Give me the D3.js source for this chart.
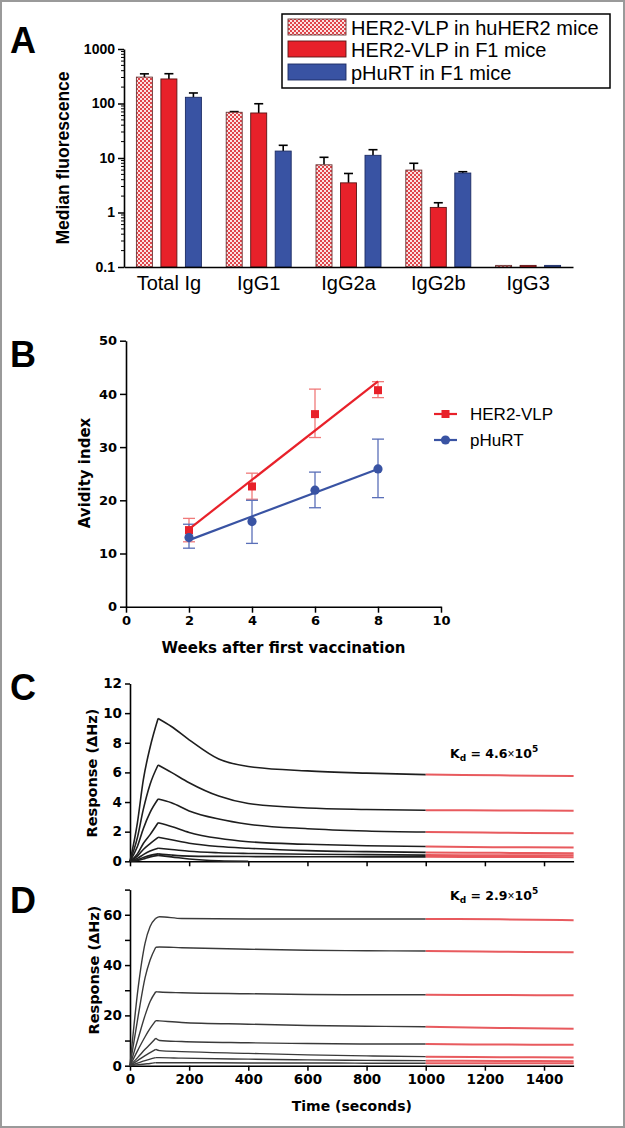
<!DOCTYPE html>
<html><head><meta charset="utf-8">
<script src="https://cdn.jsdelivr.net/npm/d3@7"></script>
<style>body{margin:0;background:#fff} svg{display:block}</style>
</head><body><svg id="c" width="625" height="1128"></svg>
<script>
// ---------- Panel A data ----------
const categoriesA = ["Total Ig","IgG1","IgG2a","IgG2b","IgG3"];
const seriesA = ["HER2-VLP in huHER2 mice","HER2-VLP in F1 mice","pHuRT in F1 mice"];
const huHER2Mean  = [305, 69, 7.5, 6.0, 0.107];
const huHER2Upper = [350, 71, 10.3, 8.0, 0.107];
const f1VlpMean   = [282, 67, 3.5, 1.24, 0.107];
const f1VlpUpper  = [352, 99, 5.2, 1.51, 0.107];
const f1PhurtMean = [130, 13.4, 11.2, 5.3, 0.107];
const f1PhurtUpper= [156, 17.1, 14.2, 5.6, 0.107];
const ticksA = [0.1, 1, 10, 100, 1000];
const tickLabelsA = ["0.1","1","10","100","1000"];

// ---------- Panel B data ----------
const weeks = [2, 4, 6, 8];
const vlpAvidity = [14.4, 22.6, 36.2, 40.7];
const vlpLow     = [12.2, 20.2, 31.8, 39.3];
const vlpHigh    = [16.6, 25.1, 40.9, 42.3];
const phurtAvidity = [13.0, 16.0, 21.9, 25.9];
const phurtLow     = [11.0, 11.9, 18.6, 20.5];
const phurtHigh    = [15.5, 20.0, 25.3, 31.5];
const seriesB = ["HER2-VLP", "pHuRT"];
const ticksBx = [0, 2, 4, 6, 8, 10];
const ticksBy = [0, 10, 20, 30, 40, 50];

// ---------- Panel C data (association/dissociation, black part) ----------
const timeC = [0, 25, 45, 68, 95, 140, 200, 300, 400, 600, 800, 1000];
const c1 = [0, 2.6, 5.5, 7.7, 9.64, 9.1, 8.2, 6.9, 6.4, 6.1, 5.95, 5.85];
const c2 = [0, 1.6, 3.5, 5.2, 6.5, 6.0, 5.3, 4.4, 3.9, 3.6, 3.5, 3.45];
const c3 = [0, 1.0, 2.2, 3.3, 4.2, 3.95, 3.4, 2.85, 2.5, 2.2, 2.05, 1.98];
const c4 = [0, 0.5, 1.2, 1.8, 2.6, 2.35, 1.95, 1.55, 1.32, 1.15, 1.05, 1.0];
const c5 = [0, 0.35, 0.8, 1.2, 1.62, 1.45, 1.22, 1.0, 0.88, 0.72, 0.65, 0.6];
const c6 = [0, 0.2, 0.45, 0.7, 0.88, 0.8, 0.68, 0.58, 0.53, 0.48, 0.45, 0.42];
const c7 = [0, 0.1, 0.25, 0.4, 0.5, 0.42, 0.35, 0.33, 0.32, 0.31, 0.3, 0.3];
const c8 = [0, 0.05, 0.15, 0.3, 0.4, 0.3, 0.15, 0.03, 0.0, null, null, null];
// fitted part (red)
const timeFit = [1000, 1250, 1500];
const c1fit = [5.85, 5.8, 5.75];
const c2fit = [3.45, 3.43, 3.42];
const c3fit = [1.98, 1.93, 1.9];
const c4fit = [1.0, 0.95, 0.93];
const c5fit = [0.6, 0.57, 0.55];
const c6fit = [0.42, 0.41, 0.4];
const c7fit = [0.3, 0.29, 0.28];
const ticksCy = [0, 2, 4, 6, 8, 10, 12];
const ticksTime = [0, 200, 400, 600, 800, 1000, 1200, 1400];

// ---------- Panel D data ----------
const timeD = [0, 28, 51, 68, 87, 100, 175, 400, 600, 800, 1000];
const d1 = [0, 31.4, 48.7, 55.3, 58.6, 59.2, 58.5, 58.3, 58.3, 58.3, 58.3];
const d2 = [0, 20, 35, 42, 47.1, 47.2, 46.9, 46.3, 45.9, 45.7, 45.6];
const d3v = [0, 11, 20, 25.5, 29.4, 29.3, 29.0, 28.6, 28.3, 28.2, 28.2];
const d4 = [0, 6.5, 11.5, 14.8, 17.9, 17.8, 17.2, 16.5, 16.0, 15.7, 15.5];
const d5 = [0, 3.5, 6.5, 8.5, 10.9, 10.0, 9.6, 9.1, 8.8, 8.6, 8.6];
const d6 = [0, 2.2, 4.0, 5.2, 6.5, 6.0, 5.6, 4.9, 4.3, 3.9, 3.6];
const d7 = [0, 1.1, 2.0, 2.6, 3.2, 3.2, 3.0, 2.6, 2.3, 2.1, 2.0];
const d8 = [0, 0.4, 0.7, 0.9, 1.2, 1.2, 1.2, 1.1, 1.1, 1.0, 1.0];
const d1fit = [58.3, 58.2, 57.8];
const d2fit = [45.6, 45.3, 45.1];
const d3fit = [28.2, 28.1, 28.0];
const d4fit = [15.5, 15.0, 14.7];
const d5fit = [8.6, 8.4, 8.3];
const d6fit = [3.6, 3.4, 3.3];
const d7fit = [2.0, 1.9, 1.8];
const d8fit = [1.0, 1.0, 1.0];
const ticksDy = [0, 10, 20, 30, 40, 50, 60, 70];

// ---------- drawing ----------
const FA = "'Liberation Sans', Arial, sans-serif";
const FD = "'DejaVu Sans', sans-serif";
const svg = d3.select("#c");
svg.append("rect").attr("x",1).attr("y",1).attr("width",623).attr("height",1126)
  .attr("fill","#fff").attr("stroke","#9a9a9a").attr("stroke-width",2);

const defs = svg.append("defs");
const pat = defs.append("pattern").attr("id","check").attr("width",4).attr("height",4)
  .attr("patternUnits","userSpaceOnUse");
pat.append("rect").attr("width",4).attr("height",4).attr("fill","#fbe3e3");
pat.append("rect").attr("width",2).attr("height",2).attr("fill","#e0454b");
pat.append("rect").attr("x",2).attr("y",2).attr("width",2).attr("height",2).attr("fill","#e0454b");

function styleAxis(g, font, size) {
  g.attr("font-family", font).attr("font-size", size).attr("font-weight","bold");
  g.select(".domain").attr("stroke","#000").attr("stroke-width",1.6);
  g.selectAll(".tick line").attr("stroke","#000").attr("stroke-width",1.5);
  g.selectAll(".tick text").attr("fill","#000");
}
function panelLetter(t, x, y) {
  svg.append("text").attr("x",x).attr("y",y).text(t)
    .attr("font-family",FA).attr("font-weight","bold").attr("font-size",36);
}

// ===== Panel A =====
panelLetter("A", 10, 53);
const xA = d3.scaleBand().domain(categoriesA).range([124, 573]);
const xInner = d3.scaleBand().domain(seriesA).range([-32.5, 32.5]).paddingInner(0.347);
const yA = d3.scaleLog().domain([0.1, 1000]).range([267, 49]);
const meansA = [huHER2Mean, f1VlpMean, f1PhurtMean];
const uppersA = [huHER2Upper, f1VlpUpper, f1PhurtUpper];
const fillsA = ["url(#check)", "#e8212a", "#3953a3"];
const strokesA = ["#6a3434", "#5a1414", "#1c2b63"];
const gA = svg.append("g");
seriesA.forEach((s, si) => {
  categoriesA.forEach((c, ci) => {
    const v = meansA[si][ci], u = uppersA[si][ci];
    const x0 = xA(c) + xA.bandwidth()/2 + xInner(s);
    const cx = x0 + xInner.bandwidth()/2;
    if (u > v) {
      gA.append("line").attr("x1",cx).attr("x2",cx).attr("y1",yA(v)).attr("y2",yA(u))
        .attr("stroke","#000").attr("stroke-width",1.6);
      gA.append("line").attr("x1",cx-4.5).attr("x2",cx+4.5).attr("y1",yA(u)).attr("y2",yA(u))
        .attr("stroke","#000").attr("stroke-width",1.6);
    }
    gA.append("rect").attr("x",x0).attr("y",yA(v)).attr("width",xInner.bandwidth())
      .attr("height",Math.max(1.2, yA.range()[0]-yA(v)))
      .attr("fill",fillsA[si]).attr("stroke",strokesA[si]).attr("stroke-width",0.9);
  });
});
// minor ticks
const minorA = [];
[0.1, 1, 10, 100].forEach(d => { for (let k = 2; k <= 9; k++) minorA.push(d*k); });
gA.selectAll(".minor").data(minorA).join("line")
  .attr("x1",121).attr("x2",124).attr("y1",d=>yA(d)).attr("y2",d=>yA(d))
  .attr("stroke","#000").attr("stroke-width",1);
const axAy = svg.append("g").attr("transform","translate(124,0)")
  .call(d3.axisLeft(yA).tickValues(ticksA).tickFormat((d,i)=>tickLabelsA[i]).tickSize(6).tickPadding(3).tickSizeOuter(0));
styleAxis(axAy, FA, 14);
const axAx = svg.append("g").attr("transform","translate(0,267)")
  .call(d3.axisBottom(xA).tickSize(0).tickPadding(9).tickSizeOuter(0));
styleAxis(axAx, FA, 20);
axAx.attr("font-weight","normal");
svg.append("text").attr("transform","translate(69,158) rotate(-90)").attr("text-anchor","middle")
  .attr("font-family",FA).attr("font-weight","bold").attr("font-size",17.5).text("Median fluorescence");
// legend A
const legA = svg.append("g");
legA.append("rect").attr("x",282).attr("y",14).attr("width",328).attr("height",74)
  .attr("fill","#fff").attr("stroke","#000").attr("stroke-width",1.5);
const legYs = [19, 41, 64];
seriesA.forEach((s, si) => {
  legA.append("rect").attr("x",288).attr("y",legYs[si]).attr("width",58).attr("height",16)
    .attr("fill",fillsA[si]).attr("stroke",strokesA[si]).attr("stroke-width",0.9);
  legA.append("text").attr("x",351).attr("y",legYs[si]+16).text(s)
    .attr("font-family",FA).attr("font-size",20);
});

// ===== Panel B =====
panelLetter("B", 10, 367);
const xB = d3.scaleLinear().domain([0, 10]).range([126, 441]);
const yB = d3.scaleLinear().domain([0, 50]).range([606.7, 340.7]);
const axBx = svg.append("g").attr("transform","translate(0,606.7)")
  .call(d3.axisBottom(xB).tickValues(ticksBx).tickSize(6).tickPadding(3).tickSizeOuter(0));
styleAxis(axBx, FD, 13);
const axBy = svg.append("g").attr("transform","translate(126,0)")
  .call(d3.axisLeft(yB).tickValues(ticksBy).tickSize(6).tickPadding(3).tickSizeOuter(0));
styleAxis(axBy, FD, 13);
svg.append("text").attr("x",283.5).attr("y",653).attr("text-anchor","middle")
  .attr("font-family",FD).attr("font-weight","bold").attr("font-size",15).text("Weeks after first vaccination");
svg.append("text").attr("transform","translate(89.5,473) rotate(-90)").attr("text-anchor","middle")
  .attr("font-family",FD).attr("font-weight","bold").attr("font-size",15).text("Avidity index");

function regression(xs, ys) {
  const mx = d3.mean(xs), my = d3.mean(ys);
  const b = d3.sum(xs, (x,i)=>(x-mx)*(ys[i]-my)) / d3.sum(xs, x=>(x-mx)*(x-mx));
  return [b, my - b*mx];
}
const groupsB = [
  {name: seriesB[0], mean: vlpAvidity, lo: vlpLow, hi: vlpHigh, color:"#e8212a", err:"#f07a7a", shape:"square"},
  {name: seriesB[1], mean: phurtAvidity, lo: phurtLow, hi: phurtHigh, color:"#3953a3", err:"#5a6fb8", shape:"circle"}
];
const gB = svg.append("g");
// error bars first
groupsB.forEach(g => {
  weeks.forEach((w, i) => {
    const cx = xB(w);
    gB.append("line").attr("x1",cx).attr("x2",cx).attr("y1",yB(g.lo[i])).attr("y2",yB(g.hi[i]))
      .attr("stroke",g.err).attr("stroke-width",1.3);
    [g.lo[i], g.hi[i]].forEach(v => gB.append("line").attr("x1",cx-6).attr("x2",cx+6)
      .attr("y1",yB(v)).attr("y2",yB(v)).attr("stroke",g.err).attr("stroke-width",1.3));
  });
});
groupsB.forEach(g => {
  const [b, a] = regression(weeks, g.mean);
  const x0 = d3.min(weeks), x1 = d3.max(weeks);
  gB.append("line").attr("x1",xB(x0)).attr("x2",xB(x1)).attr("y1",yB(a+b*x0)).attr("y2",yB(a+b*x1))
    .attr("stroke",g.color).attr("stroke-width",2.2);
  weeks.forEach((w, i) => {
    if (g.shape === "square") gB.append("rect").attr("x",xB(w)-4).attr("y",yB(g.mean[i])-4)
      .attr("width",8).attr("height",8).attr("fill",g.color);
    else gB.append("circle").attr("cx",xB(w)).attr("cy",yB(g.mean[i])).attr("r",4.6).attr("fill",g.color);
  });
});
// legend B
const legBy = [414, 440];
groupsB.forEach((g, i) => {
  gB.append("line").attr("x1",434).attr("x2",457).attr("y1",legBy[i]).attr("y2",legBy[i])
    .attr("stroke",g.color).attr("stroke-width",2.2);
  if (g.shape === "square") gB.append("rect").attr("x",441.5).attr("y",legBy[i]-4).attr("width",8).attr("height",8).attr("fill",g.color);
  else gB.append("circle").attr("cx",445.5).attr("cy",legBy[i]).attr("r",4.6).attr("fill",g.color);
  gB.append("text").attr("x",470).attr("y",legBy[i]+6).text(g.name)
    .attr("font-family",FA).attr("font-size",17);
});

// ===== Panels C & D =====
function kinetics(opts) {
  const x = d3.scaleLinear().domain([0, 1500]).range([130, 573.6]);
  const y = d3.scaleLinear().domain(opts.ydom).range(opts.yrange);
  const g = svg.append("g");
  const ax = g.append("g").attr("transform",`translate(0,${opts.yrange[0]})`)
    .call(d3.axisBottom(x).tickValues(ticksTime).tickSize(5).tickPadding(4).tickSizeOuter(0)
      .tickFormat(opts.xlabels ? d3.format("d") : () => ""));
  styleAxis(ax, FD, 13.5);
  const ay = g.append("g").attr("transform","translate(130,0)")
    .call(d3.axisLeft(y).tickValues(opts.yticks).tickSize(5).tickPadding(3).tickSizeOuter(0)
      .tickFormat(opts.yfmt));
  styleAxis(ay, FD, 13.5);
  const line = d3.line().defined(d => d[1] != null).x(d => x(d[0])).y(d => y(d[1])).curve(d3.curveMonotoneX);
  opts.curves.forEach(c => {
    const pts = opts.times.map((t, i) => [t, c[i]]);
    const rise = pts.slice(0, opts.peakIdx + 1);
    const decay = pts.slice(opts.peakIdx);
    [rise, decay].forEach(p => g.append("path").attr("d", line(p)).attr("fill","none")
      .attr("stroke",opts.color).attr("stroke-width",opts.width));
  });
  opts.fits.forEach(c => {
    g.append("path").attr("d", line(timeFit.map((t,i)=>[t,c[i]]))).attr("fill","none")
      .attr("stroke","#e5484d").attr("stroke-width",2).attr("stroke-opacity",0.9);
  });
  svg.append("text").attr("transform",`translate(${opts.ytitleX},${opts.ytitleY}) rotate(-90)`)
    .attr("text-anchor","middle").attr("font-family",FD).attr("font-weight","bold")
    .attr("font-size",14.5).text("Response (\u0394Hz)");
  const kt = svg.append("text").attr("x",450).attr("y",opts.kdY).attr("font-family",FD)
    .attr("font-weight","bold").attr("font-size",12.5);
  kt.append("tspan").text("K");
  kt.append("tspan").attr("font-size",9).attr("dy",3).text("d");
  kt.append("tspan").attr("dy",-3).text(" = " + opts.kd);
  kt.append("tspan").attr("font-family",FA).attr("font-weight","normal").attr("font-size",12).text("\u00d7");
  kt.append("tspan").text("10");
  kt.append("tspan").attr("font-size",9).attr("dy",-6).text(opts.kdExp);
}
panelLetter("C", 10, 700);
kinetics({ydom:[0,12], yrange:[861.3, 683.5], yticks: ticksCy, yfmt: d3.format("d"), xlabels:false,
  times: timeC, curves:[c1,c2,c3,c4,c5,c6,c7,c8], fits:[c1fit,c2fit,c3fit,c4fit,c5fit,c6fit,c7fit],
  peakIdx:4, color:"#1e1e1e", width:1.6, ytitleX:97, ytitleY:773, kdY:758, kd:"4.6", kdExp:"5"});
panelLetter("D", 10, 913);
kinetics({ydom:[0,70], yrange:[1065.7, 889.6], yticks: ticksDy,
  yfmt: d => (d % 20 === 0 && d < 70) ? d : "", xlabels:true,
  times: timeD, curves:[d1,d2,d3v,d4,d5,d6,d7,d8], fits:[d1fit,d2fit,d3fit,d4fit,d5fit,d6fit,d7fit,d8fit],
  peakIdx:4, color:"#3a3a3a", width:1.4, ytitleX:98.5, ytitleY:970, kdY:900, kd:"2.9", kdExp:"5"});
svg.append("text").attr("x",351.8).attr("y",1111).attr("text-anchor","middle")
  .attr("font-family",FD).attr("font-weight","bold").attr("font-size",14).text("Time (seconds)");
</script></body></html>
